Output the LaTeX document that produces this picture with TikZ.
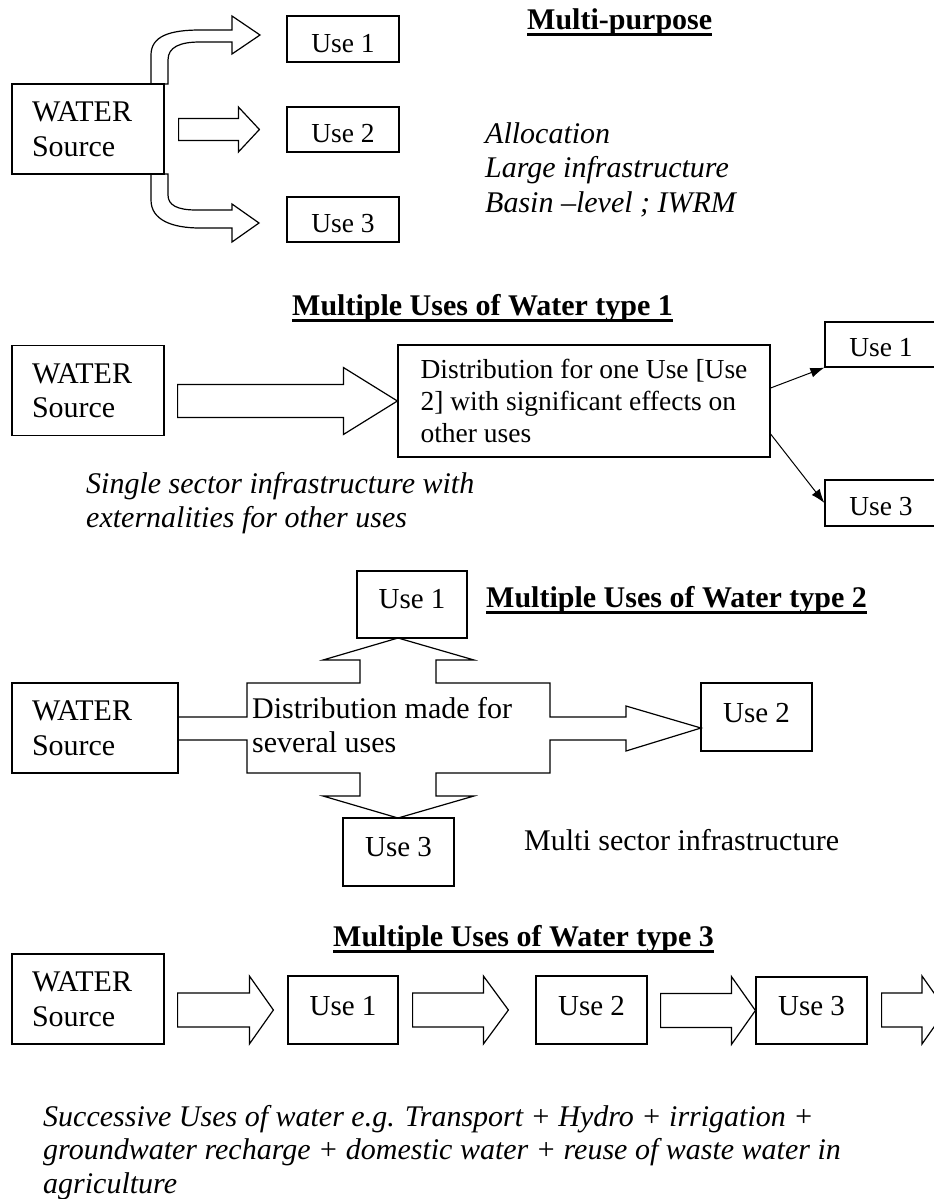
\documentclass[tikz,border=0pt]{standalone}
\usepackage{fontspec}
\setmainfont{Liberation Serif}
\usetikzlibrary{arrows.meta,calc}
\newcommand\fa{\fontsize{30}{34.5}\selectfont}
\newcommand\fb{\fontsize{27.5}{31.6}\selectfont}
\newcommand\fc{\fontsize{29}{33.4}\selectfont}
\newcommand\lines[1]{\begin{tabular}[t]{@{}l@{}}#1\end{tabular}}
% block arrow: #1 start, #2 tip, #3 shaft half width, #4 head half width, #5 head length
\newcommand\blkarrow[5]{\draw[blk] let \p1=(#1), \p2=(#2) in
  (\x1,\y2+#3) -- (\x2-#5,\y2+#3) -- (\x2-#5,\y2+#4) -- (\x2,\y2) --
  (\x2-#5,\y2-#4) -- (\x2-#5,\y2-#3) -- (\x1,\y2-#3) -- cycle;}
\tikzset{
  box/.style={draw, line width=1.2pt, inner sep=0pt},
  srcbox/.style={box, font=\fa, align=left, inner xsep=20pt, inner ysep=0pt,
                 text width=112pt, minimum width=152pt, minimum height=90pt},
  usebox/.style={box, text depth=0pt},
  blk/.style={draw, line width=1.2pt, fill=white, line join=miter},
  ttl/.style={font=\fa\bfseries, anchor=base west, inner sep=0pt},
  ital/.style={font=\fa\itshape, anchor=base west, inner sep=0pt},
  plain/.style={font=\fa, anchor=base west, inner sep=0pt},
  thinarr/.style={line width=1pt, -{Latex[length=14pt,width=10pt]}},
  uline/.style={line width=3pt}
}
\begin{document}
\begin{tikzpicture}[x=1pt,y=-1pt]
\fill[white] (0,0) rectangle (934,1199);
\useasboundingbox (0,0) rectangle (934,1199);

% ---------------- Section 1: Multi-purpose
\draw[blk] (151,84) -- (151,55) .. controls (151,36) and (170,30) .. (200,30) -- (232,30)
  -- (232,16) -- (260,35) -- (232,54) -- (232,42) -- (200,42)
  .. controls (180,42) and (168,47) .. (168,60) -- (168,84) -- cycle;
\draw[blk] (151,174) -- (151,200) .. controls (151,220) and (172,228) .. (200,228) -- (232,228)
  -- (232,242) -- (259,223) -- (232,204) -- (232,210) -- (196,210)
  .. controls (177,210) and (168,205) .. (168,195) -- (168,174) -- cycle;
\node[srcbox] (src1) at (88,129) {WATER\\Source};
\node[usebox, font=\fb, text height=27pt, minimum width=112pt, minimum height=46pt] (u11) at (343,39) {Use 1};
\node[usebox, font=\fb, text height=26pt, minimum width=112pt, minimum height=45pt] (u12) at (343,129.5) {Use 2};
\node[usebox, font=\fb, text height=26pt, minimum width=112pt, minimum height=45pt] (u13) at (343,219.5) {Use 3};
\blkarrow{$(src1.east)+(14,0)$}{$(u12.west)+(-27,0)$}{11pt}{22.5pt}{21pt}
\node[ttl] (t1) at (527,30) {Multi-purpose};
\draw[uline] ([yshift=-5pt]t1.base west) -- ([yshift=-5pt]t1.base east);
\node[ital] (alloc) at (485,143) {\lines{Allocation\\Large infrastructure\\Basin –level ; IWRM}};

% ---------------- Section 2: type 1
\node[ttl] (t2) at (292,315) {Multiple Uses of Water type 1};
\draw[uline] ([yshift=-5.5pt]t2.base west) -- ([yshift=-5.5pt]t2.base east);
\node[srcbox] (src2) at (88,390.5) {WATER\\Source};
\node[box, font=\fb, align=left, inner xsep=19pt, inner ysep=0pt, minimum width=372pt, minimum height=112pt] (dist) at (584,401)
  {Distribution for one Use [Use\\2] with significant effects on\\other uses};
\blkarrow{$(src2.east)+(13,0)$}{dist.west}{16.5pt}{33.5pt}{54pt}
\node[usebox, font=\fb, text height=24pt, minimum width=112pt, minimum height=45pt] (u21) at (881,344.5) {Use 1};
\node[usebox, font=\fb, text height=24pt, minimum width=112pt, minimum height=46pt] (u23) at (881,503) {Use 3};
\draw[thinarr] ($(dist.east)+(0,-13)$) -- (u21.south west);
\draw[thinarr] ($(dist.east)+(0,33)$) -- (u23.west);
\node[ital] (single) at (86,493) {\lines{Single sector infrastructure with\\externalities for other uses}};

% ---------------- Section 3: type 2
\draw[blk, fill=none] (178,717) -- (247,717) -- (247,683) -- (360,683) -- (360,660) -- (323,660)
  -- (398,638) -- (474,660) -- (436,660) -- (436,683) -- (550,683) -- (550,717) -- (626,717)
  -- (626,706) -- (701,728) -- (626,751) -- (626,740) -- (550,740) -- (550,773) -- (436,773)
  -- (436,796) -- (474,796) -- (398,818) -- (323,796) -- (360,796) -- (360,773) -- (247,773)
  -- (247,740) -- (178,740);
\node[srcbox, text width=126pt, minimum width=166pt] (src3) at (95,728) {WATER\\Source};
\node[usebox, font=\fc, text height=8pt, minimum width=110pt, minimum height=67pt] (u31) at (412,604.5) {Use 1};
\node[usebox, font=\fc, text height=10pt, minimum width=111pt, minimum height=68pt] (u32) at (756.5,717) {Use 2};
\node[usebox, font=\fc, text height=8pt, minimum width=111pt, minimum height=68pt] (u33) at (398.5,852) {Use 3};
\node[plain] (dist2) at (252,718) {\lines{Distribution made for\\several uses}};
\node[ttl] (t3) at (486,607) {Multiple Uses of Water type 2};
\draw[uline] ([yshift=-5pt]t3.base west) -- ([yshift=-5pt]t3.base east);
\node[plain] (msi) at (524,850) {Multi sector infrastructure};

% ---------------- Section 4: type 3
\node[ttl] (t4) at (333,946) {Multiple Uses of Water type 3};
\draw[uline] ([yshift=-5pt]t4.base west) -- ([yshift=-5pt]t4.base east);
\node[srcbox] (src4) at (88,999) {WATER\\Source};
\node[usebox, font=\fc, text height=10pt, minimum width=110pt, minimum height=68pt] (u41) at (343,1010) {Use 1};
\node[usebox, font=\fc, text height=10pt, minimum width=111pt, minimum height=68pt] (u42) at (591.5,1010) {Use 2};
\node[usebox, font=\fc, text height=10pt, minimum width=111pt, minimum height=67pt] (u43) at (811.5,1010.5) {Use 3};
\coordinate (out4) at (946,1010);
\blkarrow{$(src4.east)+(13,0)$}{$(u41.west)+(-14,0)$}{17pt}{34pt}{24pt}
\blkarrow{$(u41.east)+(14,0)$}{$(u42.west)+(-27,0)$}{17pt}{34pt}{25pt}
\blkarrow{$(u42.east)+(13,0)$}{u43.west}{17pt}{34pt}{24pt}
\blkarrow{$(u43.east)+(14,0)$}{out4}{17pt}{34pt}{24pt}
\node[anchor=base west, inner sep=0pt, font=\fontsize{30}{33.5}\selectfont\itshape] (succ) at (43,1126)
  {\lines{Successive Uses of water e.g. Transport + Hydro + irrigation +\\groundwater recharge + domestic water + reuse of waste water in\\agriculture}};
\end{tikzpicture}
\end{document}
